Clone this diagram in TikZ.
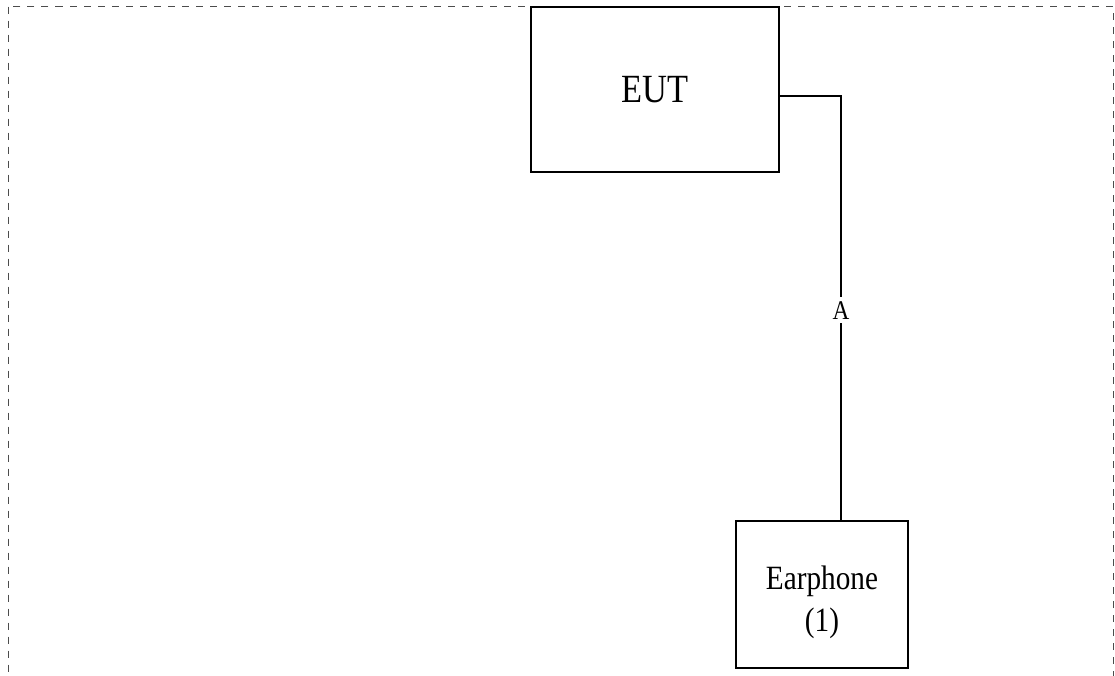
\documentclass[tikz,border=0pt]{standalone}
\usepackage{fontspec}
\setmainfont{Liberation Serif}
\newfontfamily\boxfont[FakeStretch=0.86]{Liberation Serif}
\begin{document}
\begin{tikzpicture}
      [
      x=1pt,y=-1pt,
      device/.style={draw,line width=1.6pt,rectangle,inner sep=0pt,align=center},
      cable/.style={line width=1.6pt},
      frame/.style={draw=black!70,line width=0.9pt,dash pattern=on 7pt off 7pt}
      ]
      \useasboundingbox (0,0) rectangle (1115,675);
      \clip (0,0) rectangle (1115,675);
      \draw [frame] (8.5,6.5) rectangle (1113,700);

      \node (eut) at (655,89.5) [device,minimum width=248pt,minimum height=165pt,font=\boxfont\fontsize{40}{46}\selectfont] {EUT};
      \node (ear) at (822,594.5) [device,minimum width=172pt,minimum height=147pt,font=\boxfont\fontsize{34}{42}\selectfont] {\rule{0pt}{40pt}Earphone\\(1)};
      \coordinate (bend) at (841,96);

      \draw [cable] (eut.east |- bend) -- (bend) -- node [pos=0.505,fill=white,inner sep=4pt,font=\boxfont\fontsize{27}{30}\selectfont] (lblA) {A} (bend |- ear.north);
    \end{tikzpicture}
\end{document}
